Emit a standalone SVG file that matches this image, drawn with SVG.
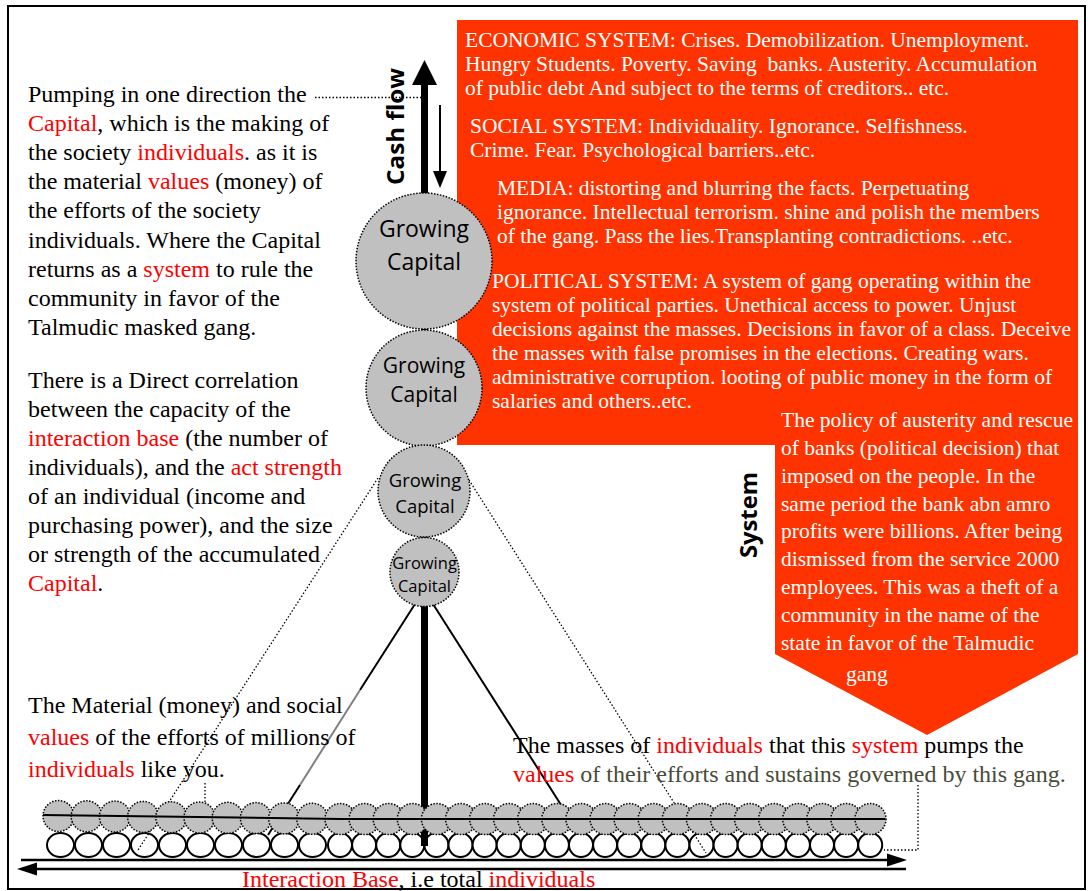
<svg xmlns="http://www.w3.org/2000/svg" width="1090" height="891" viewBox="0 0 1090 891">
<style>
.t{font-family:"Liberation Serif","Times New Roman",serif;font-size:24px;fill:#000}
.r{fill:#ff0000}
.ol{fill:#4a4a38}
.w{font-family:"Liberation Serif","Times New Roman",serif;font-size:21.5px;fill:#fff}
.cap{font-family:"Open Sans","Noto Sans",sans-serif;text-anchor:middle;fill:#000}
.lbl{font-family:"Open Sans","Noto Sans",sans-serif;font-weight:700;font-size:24px;text-anchor:middle;fill:#000}
.gc{fill:#c0c0c0;stroke:#000;stroke-width:1.5;stroke-dasharray:1.5 1.5}
.wc{fill:#fff;stroke:#000;stroke-width:2}
.dot{fill:none;stroke:#000;stroke-width:1.3;stroke-dasharray:1.5 2}
.sol{fill:none;stroke:#000;stroke-width:2}
</style>
<rect x="0" y="0" width="1090" height="891" fill="#fff"/>
<rect id="frame" x="8" y="6" width="1077" height="883" fill="none" stroke="#000" stroke-width="2"/>

<g id="system-panel">
<polygon points="457,20 1078,20 1078,654 927,735 775,654 775,445 457,445" fill="#ff3300"/>
<text class="w" x="465" y="47">ECONOMIC SYSTEM: Crises. Demobilization. Unemployment.</text>
<text class="w" x="465" y="71">Hungry Students. Poverty. Saving&#160; banks. Austerity. Accumulation</text>
<text class="w" x="465" y="95">of public debt And subject to the terms of creditors.. etc.</text>
<text class="w" x="470" y="133">SOCIAL SYSTEM: Individuality. Ignorance. Selfishness.</text>
<text class="w" x="470" y="157">Crime. Fear. Psychological barriers..etc.</text>
<text class="w" x="497" y="195">MEDIA: distorting and blurring the facts. Perpetuating</text>
<text class="w" x="497" y="219">ignorance. Intellectual terrorism. shine and polish the members</text>
<text class="w" x="497" y="243">of the gang. Pass the lies.Transplanting contradictions. ..etc.</text>
<text class="w" x="492" y="288">POLITICAL SYSTEM: A system of gang operating within the</text>
<text class="w" x="492" y="312">system of political parties. Unethical access to power. Unjust</text>
<text class="w" x="492" y="336">decisions against the masses. Decisions in favor of a class. Deceive</text>
<text class="w" x="492" y="360">the masses with false promises in the elections. Creating wars.</text>
<text class="w" x="492" y="384">administrative corruption. looting of public money in the form of</text>
<text class="w" x="492" y="408">salaries and others..etc.</text>
<text class="w" x="781" y="427">The policy of austerity and rescue</text>
<text class="w" x="781" y="455">of banks (political decision) that</text>
<text class="w" x="781" y="483">imposed on the people. In the</text>
<text class="w" x="781" y="511">same period the bank abn amro</text>
<text class="w" x="781" y="538">profits were billions. After being</text>
<text class="w" x="781" y="566">dismissed from the service 2000</text>
<text class="w" x="781" y="594">employees. This was a theft of a</text>
<text class="w" x="781" y="622">community in the name of the</text>
<text class="w" x="781" y="650">state in favor of the Talmudic</text>
<text class="w" x="846" y="681">gang</text>
</g>

<g id="base-individuals">
<ellipse class="wc" cx="60.5" cy="845" rx="13.5" ry="12"/>
<ellipse class="wc" cx="88.5" cy="845" rx="13.5" ry="12"/>
<ellipse class="wc" cx="116.5" cy="845" rx="13.5" ry="12"/>
<ellipse class="wc" cx="144.5" cy="845" rx="13.5" ry="12"/>
<ellipse class="wc" cx="172.5" cy="845" rx="13.5" ry="12"/>
<ellipse class="wc" cx="200.5" cy="845" rx="13.5" ry="12"/>
<ellipse class="wc" cx="228.5" cy="845" rx="13.5" ry="12"/>
<ellipse class="wc" cx="256.5" cy="845" rx="13.5" ry="12"/>
<ellipse class="wc" cx="284.5" cy="845" rx="13.5" ry="12"/>
<ellipse class="wc" cx="312.5" cy="845" rx="13.5" ry="12"/>
<circle class="wc" cx="340" cy="845" r="12"/>
<circle class="wc" cx="364.1" cy="845" r="12"/>
<circle class="wc" cx="388.2" cy="845" r="12"/>
<circle class="wc" cx="412.3" cy="845" r="12"/>
<circle class="wc" cx="436.4" cy="845" r="12"/>
<circle class="wc" cx="460.5" cy="845" r="12"/>
<circle class="wc" cx="484.6" cy="845" r="12"/>
<circle class="wc" cx="508.7" cy="845" r="12"/>
<circle class="wc" cx="532.8" cy="845" r="12"/>
<circle class="wc" cx="556.9" cy="845" r="12"/>
<circle class="wc" cx="581" cy="845" r="12"/>
<circle class="wc" cx="605.1" cy="845" r="12"/>
<circle class="wc" cx="629.2" cy="845" r="12"/>
<circle class="wc" cx="653.3" cy="845" r="12"/>
<circle class="wc" cx="677.4" cy="845" r="12"/>
<circle class="wc" cx="701.5" cy="845" r="12"/>
<circle class="wc" cx="725.6" cy="845" r="12"/>
<circle class="wc" cx="749.7" cy="845" r="12"/>
<circle class="wc" cx="773.8" cy="845" r="12"/>
<circle class="wc" cx="797.9" cy="845" r="12"/>
<circle class="wc" cx="822" cy="845" r="12"/>
<circle class="wc" cx="846.1" cy="845" r="12"/>
<circle class="wc" cx="870.2" cy="845" r="12"/>
</g>

<g id="connectors">
<line class="dot" x1="315" y1="97.5" x2="421" y2="97.5"/>
<line class="dot" x1="378" y1="478" x2="138" y2="850"/>
<line class="dot" x1="469" y1="480" x2="706" y2="853"/>
<line class="dot" x1="205" y1="783" x2="205" y2="813"/>
<polyline class="dot" points="918,785 918,850 884,850"/>
<line class="sol" x1="415" y1="604" x2="360" y2="690"/>
<line x1="360" y1="690" x2="300" y2="785" stroke="#808080" stroke-width="2"/>
<line class="sol" x1="300" y1="785" x2="268" y2="835"/>
<line class="sol" x1="433" y1="604" x2="563" y2="808"/>
<rect x="421" y="83" width="7" height="763" fill="#000"/>
<polygon points="424.5,60 412,85 437,85" fill="#000"/>
<line x1="440" y1="105" x2="440" y2="175" stroke="#000" stroke-width="2"/>
<polygon points="440,188 433,171 447,171" fill="#000"/>
<line x1="21" y1="860" x2="890" y2="860" stroke="#000" stroke-width="2.5"/>
<polygon points="907,860 887,853.5 887,866.5" fill="#000"/>
<line x1="34" y1="869" x2="906" y2="869" stroke="#000" stroke-width="2.5"/>
<polygon points="17,869 37,862.5 37,875.5" fill="#000"/>
</g>

<g id="interaction-row">
<circle class="gc" cx="58.5" cy="816" r="15.5"/>
<circle class="gc" cx="86.7" cy="816.3" r="15.5"/>
<circle class="gc" cx="114.9" cy="816.6" r="15.5"/>
<circle class="gc" cx="143.1" cy="816.9" r="15.5"/>
<circle class="gc" cx="171.3" cy="817.2" r="15.5"/>
<circle class="gc" cx="199.5" cy="817.5" r="15.5"/>
<circle class="gc" cx="227.7" cy="817.8" r="15.5"/>
<circle class="gc" cx="255.9" cy="818.1" r="15.5"/>
<circle class="gc" cx="284.1" cy="818.4" r="15.5"/>
<circle class="gc" cx="312.3" cy="818.7" r="15.5"/>
<circle class="gc" cx="340.5" cy="819" r="15.5"/>
<circle class="gc" cx="364.6" cy="819" r="15.5"/>
<circle class="gc" cx="388.7" cy="819" r="15.5"/>
<circle class="gc" cx="412.8" cy="819" r="15.5"/>
<circle class="gc" cx="436.9" cy="819" r="15.5"/>
<circle class="gc" cx="461" cy="819" r="15.5"/>
<circle class="gc" cx="485.1" cy="819" r="15.5"/>
<circle class="gc" cx="509.1" cy="819" r="15.5"/>
<circle class="gc" cx="533.2" cy="819" r="15.5"/>
<circle class="gc" cx="557.3" cy="819" r="15.5"/>
<circle class="gc" cx="581.4" cy="819" r="15.5"/>
<circle class="gc" cx="605.5" cy="819" r="15.5"/>
<circle class="gc" cx="629.6" cy="819" r="15.5"/>
<circle class="gc" cx="653.7" cy="819" r="15.5"/>
<circle class="gc" cx="677.8" cy="819" r="15.5"/>
<circle class="gc" cx="701.9" cy="819" r="15.5"/>
<circle class="gc" cx="726" cy="819" r="15.5"/>
<circle class="gc" cx="750" cy="819" r="15.5"/>
<circle class="gc" cx="774.1" cy="819" r="15.5"/>
<circle class="gc" cx="798.2" cy="819" r="15.5"/>
<circle class="gc" cx="822.3" cy="819" r="15.5"/>
<circle class="gc" cx="846.4" cy="819" r="15.5"/>
<circle class="gc" cx="870.5" cy="819" r="15.5"/>
<polyline points="43,815 340,819 885,819" fill="none" stroke="#000" stroke-width="2"/>
</g>

<g id="capital-1">
<circle class="gc" cx="424" cy="261" r="68"/>
<text class="cap" x="424" y="237" font-size="23">Growing</text>
<text class="cap" x="424" y="270" font-size="23">Capital</text>
</g>
<g id="capital-2">
<circle class="gc" cx="424" cy="388" r="58"/>
<text class="cap" x="424" y="373" font-size="21">Growing</text>
<text class="cap" x="424" y="402" font-size="21">Capital</text>
</g>
<g id="capital-3">
<circle class="gc" cx="424" cy="491" r="46"/>
<text class="cap" x="425" y="487" font-size="18.5">Growing</text>
<text class="cap" x="425" y="513" font-size="18.5">Capital</text>
</g>
<g id="capital-4">
<circle class="gc" cx="424.5" cy="572" r="34.5"/>
<text class="cap" x="424.5" y="569" font-size="16.5">Growing</text>
<text class="cap" x="424.5" y="592" font-size="16.5">Capital</text>
</g>

<g id="cash-flow-label">
<text class="lbl" transform="translate(404,126.5) rotate(-90)" textLength="117" lengthAdjust="spacingAndGlyphs">Cash flow</text>
</g>
<g id="system-label">
<text class="lbl" transform="translate(757,515) rotate(-90)" textLength="86" lengthAdjust="spacingAndGlyphs">System</text>
</g>

<g id="text-pumping">
<text class="t" x="28" y="101.5">Pumping in one direction the</text>
<text class="t" x="28" y="130.7"><tspan class="r">Capital</tspan>, which is the making of</text>
<text class="t" x="28" y="159.9">the society <tspan class="r">individuals</tspan>. as it is</text>
<text class="t" x="28" y="189.1">the material <tspan class="r">values</tspan> (money) of</text>
<text class="t" x="28" y="218.3">the efforts of the society</text>
<text class="t" x="28" y="247.5">individuals. Where the Capital</text>
<text class="t" x="28" y="276.7">returns as a <tspan class="r">system</tspan> to rule the</text>
<text class="t" x="28" y="305.9">community in favor of the</text>
<text class="t" x="28" y="335.1">Talmudic masked gang.</text>
</g>

<g id="text-correlation">
<text class="t" x="28" y="388">There is a Direct correlation</text>
<text class="t" x="28" y="417">between the capacity of the</text>
<text class="t" x="28" y="446"><tspan class="r">interaction base</tspan> (the number of</text>
<text class="t" x="28" y="475">individuals), and the <tspan class="r">act strength</tspan></text>
<text class="t" x="28" y="504">of an individual (income and</text>
<text class="t" x="28" y="533">purchasing power), and the size</text>
<text class="t" x="28" y="562">or strength of the accumulated</text>
<text class="t" x="28" y="591"><tspan class="r">Capital</tspan>.</text>
</g>

<g id="text-material">
<text class="t" x="28" y="713">The Material (money) and social</text>
<text class="t" x="28" y="745"><tspan class="r">values</tspan> of the efforts of millions of</text>
<text class="t" x="28" y="777"><tspan class="r">individuals</tspan> like you.</text>
</g>

<g id="text-masses">
<text class="t" x="513" y="753">The masses of <tspan class="r">individuals</tspan> that this <tspan class="r">system</tspan> pumps the</text>
<text class="t ol" x="513" y="782"><tspan class="r">values</tspan> of their efforts and sustains governed by this gang.</text>
</g>

<g id="text-base">
<text class="t" x="242" y="886.5"><tspan class="r">Interaction Base</tspan>, i.e total <tspan class="r">individuals</tspan></text>
</g>
</svg>
